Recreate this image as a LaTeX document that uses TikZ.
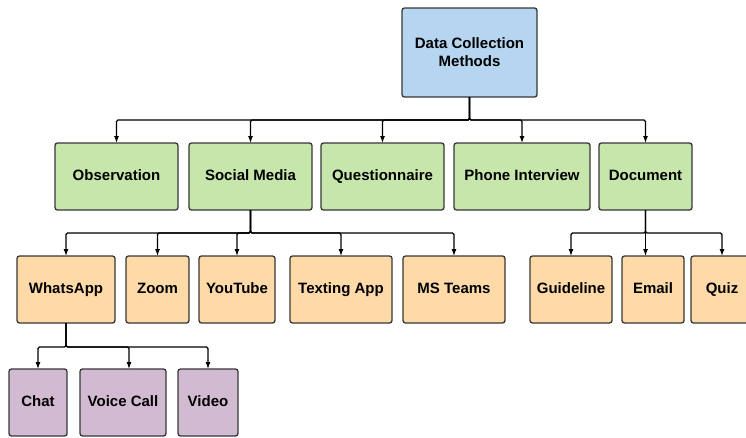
\documentclass[tikz,border=0pt]{standalone}
\usepackage{fontspec}
\setmainfont{Liberation Sans}
\usetikzlibrary{positioning,arrows.meta}
\definecolor{boxline}{RGB}{55,55,55}
\definecolor{rootblue}{RGB}{181,213,240}
\definecolor{methodgreen}{RGB}{198,230,172}
\definecolor{toolorange}{RGB}{253,218,168}
\definecolor{modepurple}{RGB}{211,186,211}

\begin{document}
\begin{tikzpicture}[x=1pt, y=-1pt, >={Latex[length=7pt,width=5pt]},
  main/.style = {draw=boxline, line width=1.3pt, rounded corners=2.5pt, inner sep=0pt, outer sep=0pt,
    minimum height=67pt, align=center, font=\fontsize{15}{18}\selectfont\bfseries},
  leaf/.style = {main, text height=11pt, text depth=4pt},
  root/.style = {main, fill=rootblue, minimum height=89pt},
  method/.style = {leaf, fill=methodgreen},
  tool/.style = {leaf, fill=toolorange},
  mode/.style = {leaf, fill=modepurple},
  link/.style = {->, line width=1.1pt, rounded corners=1.5pt}]
\useasboundingbox (0,0) rectangle (746,437);
\node[root, minimum width=135pt] (dcm) at (469.5,52.5) {Data Collection\\Methods};
% methods
\node[method, minimum width=123pt] (obs) at (116.5,176.5) {Observation};
\node[method, minimum width=123pt, right=11pt of obs] (sm) {Social Media};
\node[method, minimum width=123pt, right=9pt of sm] (quest) {Questionnaire};
\node[method, minimum width=136pt, right=10pt of quest] (phone) {Phone Interview};
\node[method, minimum width=93pt, right=9pt of phone] (doc) {Document};
% tools
\node[tool, minimum width=98pt] (wa) at (66,289.5) {WhatsApp};
\node[tool, minimum width=63pt, right=11pt of wa] (zoom) {Zoom};
\node[tool, minimum width=76pt, right=10pt of zoom] (yt) {YouTube};
\node[tool, minimum width=102pt, right=15pt of yt] (text) {Texting App};
\node[tool, minimum width=102pt, right=11pt of text] (teams) {MS Teams};
\node[tool, minimum width=82pt, right=25pt of teams] (guide) {Guideline};
\node[tool, minimum width=62pt, right=10pt of guide] (email) {Email};
\node[tool, minimum width=62pt, right=7pt of email] (quiz) {Quiz};
% whatsapp modes
\node[mode, minimum width=58pt] (chat) at (38,402.5) {Chat};
\node[mode, minimum width=86pt, right=13pt of chat] (voice) {Voice Call};
\node[mode, minimum width=60pt, right=12pt of voice] (video) {Video};

\draw[link] (dcm.south) -- ++(0,23) -| (obs.north);
\draw[link] (dcm.south) -- ++(0,23) -| (sm.north);
\draw[link] (dcm.south) -- ++(0,23) -| (quest.north);
\draw[link] (dcm.south) -- ++(0,23) -| (phone.north);
\draw[link] (dcm.south) -- ++(0,23) -| (doc.north);
\draw[link] (sm.south) -- ++(0,23) -| (wa.north);
\draw[link] (sm.south) -- ++(0,23) -| (zoom.north);
\draw[link] (sm.south) -- ++(0,23) -| (yt.north);
\draw[link] (sm.south) -- ++(0,23) -| (text.north);
\draw[link] (sm.south) -- ++(0,23) -| (teams.north);
\draw[link] (doc.south) -- ++(0,23) -| (guide.north);
\draw[link] (doc.south) -- (doc.south |- email.north);
\draw[link] (doc.south) -- ++(0,23) -| (quiz.north);
\draw[link] (wa.south) -- ++(0,24) -| (chat.north);
\draw[link] (wa.south) -- ++(0,24) -| ([xshift=6pt]voice.north);
\draw[link] (wa.south) -- ++(0,24) -| (video.north);
\end{tikzpicture}
\end{document}
